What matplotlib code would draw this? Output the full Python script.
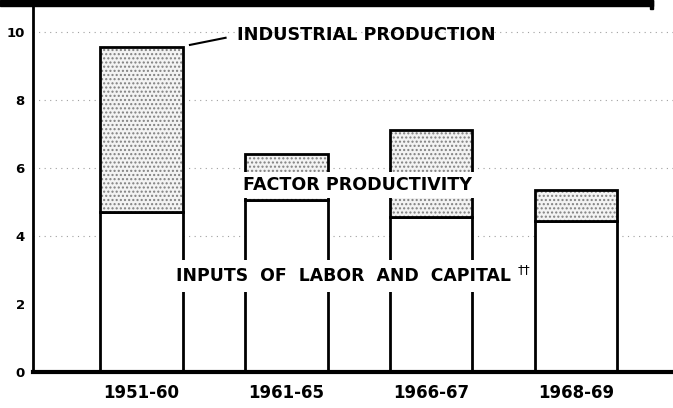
import numpy as np
import matplotlib.pyplot as plt
from matplotlib.patches import Rectangle

# ---------------- Data (percent per year) ----------------
periods = ['1951-60', '1961-65', '1966-67', '1968-69']
inputs = [4.7, 5.05, 4.55, 4.45]          # inputs of labor and capital
productivity = [4.86, 1.35, 2.56, 0.9]    # factor productivity (stacked on top)
yticks = [0, 2, 4, 6, 8, 10]
grid_levels = [4, 6, 8, 10]

plt.rcParams['font.family'] = ['DejaVu Sans']

fig = plt.figure(figsize=(6.73, 4.08), dpi=100)
ax = fig.add_axes([33/673, 36/408, 1 - 33/673, 372/408])

x = np.arange(len(periods))
w = 0.57

# faint dotted guide lines
for g in grid_levels:
    ax.axhline(g, color='#a0a0a0', lw=0.8, ls=(0, (1, 4)), zorder=0)

# inputs (plain white boxes)
ax.bar(x, inputs, width=w, color='white', edgecolor='black', lw=2, zorder=2)

# productivity: stipple first, outline afterwards
ax.bar(x, productivity, bottom=inputs, width=w, color='#f3f3f3',
       edgecolor='#808080', hatch='....', lw=0, zorder=2)
ax.bar(x, productivity, bottom=inputs, width=w, fill=False,
       edgecolor='black', lw=2, zorder=3)

ax.set_xlim(-0.75, 3.67)
ax.set_ylim(0, 372/34)

ax.set_xticks(x)
ax.set_xticklabels(periods, fontsize=12, fontweight='bold')
ax.set_yticks(yticks)
ax.set_yticklabels([str(t) for t in yticks], fontsize=9.5, fontweight='bold')
ax.tick_params(length=0)
ax.tick_params(axis='x', pad=9)
ax.tick_params(axis='y', pad=6)

for s in ['top', 'right']:
    ax.spines[s].set_visible(False)
ax.spines['left'].set_linewidth(2)
ax.spines['bottom'].set_linewidth(3)

# labels
ax.text(0.659, 9.9, 'INDUSTRIAL PRODUCTION', fontsize=12.7, fontweight='bold',
        va='center', ha='left', zorder=5)
ax.plot([0.334, 0.58], [9.62, 9.83], color='black', lw=1.5, zorder=5,
        clip_on=False)
ax.text(0.70, 5.5, 'FACTOR PRODUCTIVITY', fontsize=12.6, fontweight='bold',
        va='center', ha='left', zorder=5,
        bbox=dict(facecolor='white', edgecolor='none', pad=3))
ax.text(0.238, 2.82, 'INPUTS  OF  LABOR  AND  CAPITAL', fontsize=12.4,
        fontweight='bold', va='center', ha='left', zorder=5,
        bbox=dict(facecolor='white', edgecolor='none', pad=5))
ax.text(2.595, 3.0, '\u2020\u2020', fontsize=9, va='center', ha='left', zorder=5)

# heavy rule across the top of the panel
fig.add_artist(Rectangle((0, 1 - 6/408), 653/673, 6/408,
                         transform=fig.transFigure, color='black'))
fig.add_artist(Rectangle((650/673, 1 - 9/408), 3/673, 9/408,
                         transform=fig.transFigure, color='black'))

fig.savefig('out.png', dpi=100)
